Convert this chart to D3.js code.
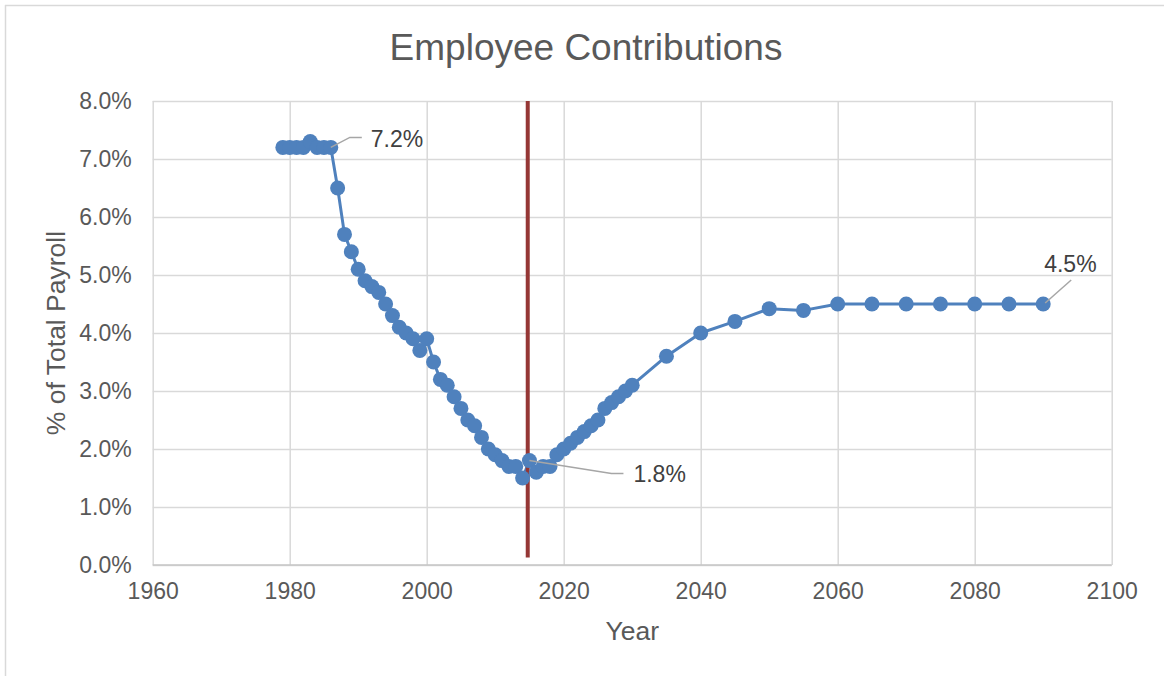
<!DOCTYPE html>
<html>
<head>
<meta charset="utf-8">
<script src="https://cdn.jsdelivr.net/npm/d3@7"></script>
<style>
  html, body { margin: 0; padding: 0; background: #fff; }
  svg { display: block; font-family: "Liberation Sans", Arial, sans-serif; }
</style>
</head>
<body>
<svg id="chart" width="1164" height="676"></svg>
<script>
// ---- data ----
const years = [1979,1980,1981,1982,1983,1984,1985,1986,1987,1988,1989,1990,1991,1992,1993,1994,1995,1996,1997,1998,1999,2000,2001,2002,2003,2004,2005,2006,2007,2008,2009,2010,2011,2012,2013,2014,2015,2016,2017,2018,2019,2020,2021,2022,2023,2024,2025,2026,2027,2028,2029,2030,2035,2040,2045,2050,2055,2060,2065,2070,2075,2080,2085,2090];
const contributions = [7.2,7.2,7.2,7.2,7.3,7.2,7.2,7.2,6.5,5.7,5.4,5.1,4.9,4.8,4.7,4.5,4.3,4.1,4.0,3.9,3.7,3.9,3.5,3.2,3.1,2.9,2.7,2.5,2.4,2.2,2.0,1.9,1.8,1.7,1.7,1.5,1.8,1.6,1.7,1.7,1.9,2.0,2.1,2.2,2.3,2.4,2.5,2.7,2.8,2.9,3.0,3.1,3.6,4.0,4.2,4.42,4.39,4.5,4.5,4.5,4.5,4.5,4.5,4.5];
const xTicks = [1960,1980,2000,2020,2040,2060,2080,2100];
const yTicks = [0,1,2,3,4,5,6,7,8];
const markerYear = [2014.75];
const markerRange = [0.13, 8];
const labelYears = [1986, 2015, 2090];
const labelTexts = ["7.2%", "1.8%", "4.5%"];

(function () {
// ---- layout ----
const svg = d3.select("#chart");
const pLeft = 152.7, pRight = 1111.7, pTop = 101, pBottom = 565;
const x = d3.scaleLinear().domain([1960, 2100]).range([pLeft, pRight]);
const y = d3.scaleLinear().domain([0, 8]).range([pBottom, pTop]);
const textGray = "#595959";

// outer frame
svg.append("line").attr("x1", 5.5).attr("x2", 5.5).attr("y1", 5).attr("y2", 676)
  .attr("stroke", "#d9d9d9").attr("stroke-width", 1.5);
svg.append("line").attr("x1", 5).attr("x2", 1164).attr("y1", 5.5).attr("y2", 5.5)
  .attr("stroke", "#d9d9d9").attr("stroke-width", 1.5);

// title
svg.append("text").attr("x", 586).attr("y", 60).attr("text-anchor", "middle")
  .attr("fill", textGray).attr("font-size", 37).text("Employee Contributions");

// gridlines
const yAxis = d3.axisLeft(y).tickValues(yTicks).tickSize(-(pRight - pLeft)).tickPadding(21)
  .tickFormat(d => d.toFixed(1) + "%");
const gy = svg.append("g").attr("transform", `translate(${pLeft},0)`).call(yAxis);
gy.select(".domain").remove();
gy.selectAll(".tick line").attr("stroke", "#d9d9d9").attr("stroke-width", 1.5);
gy.selectAll(".tick text").attr("fill", textGray).attr("font-size", 23)
  .attr("font-family", "Liberation Sans, Arial, sans-serif");

const xAxis = d3.axisBottom(x).tickValues(xTicks).tickSize(-(pBottom - pTop)).tickPadding(18)
  .tickFormat(d3.format("d"));
const gx = svg.append("g").attr("transform", `translate(0,${pBottom})`).call(xAxis);
gx.select(".domain").remove();
gx.selectAll(".tick line").attr("stroke", "#d9d9d9").attr("stroke-width", 1.5);
gx.selectAll(".tick text").attr("fill", textGray).attr("font-size", 23)
  .attr("font-family", "Liberation Sans, Arial, sans-serif");

// bottom axis line
svg.append("line").attr("x1", pLeft).attr("x2", pRight).attr("y1", pBottom).attr("y2", pBottom)
  .attr("stroke", "#c6c6c6").attr("stroke-width", 1.5);

// axis titles
svg.append("text").attr("x", (pLeft + pRight) / 2).attr("y", 640).attr("text-anchor", "middle")
  .attr("fill", textGray).attr("font-size", 26.5).text("Year");
svg.append("text").attr("transform", "translate(56,333) rotate(-90)").attr("dy", "0.35em")
  .attr("text-anchor", "middle").attr("fill", textGray).attr("font-size", 26.5)
  .text("% of Total Payroll");

// series
const pts = years.map((yr, i) => ({ yr, v: contributions[i] }));
const lineGen = d3.line().x(d => x(d.yr)).y(d => y(d.v));
const blue = "#4f81bd";
svg.append("path").datum(pts).attr("d", lineGen).attr("fill", "none")
  .attr("stroke", blue).attr("stroke-width", 3).attr("stroke-linejoin", "round");

// red vertical marker line
svg.append("line")
  .attr("x1", x(markerYear[0])).attr("x2", x(markerYear[0]))
  .attr("y1", y(markerRange[0])).attr("y2", y(markerRange[1]))
  .attr("stroke", "#953735").attr("stroke-width", 4);

svg.append("g").selectAll("circle").data(pts).join("circle")
  .attr("cx", d => x(d.yr)).attr("cy", d => y(d.v)).attr("r", 7.5).attr("fill", blue);

// data labels with leader lines
const leaderShapes = [
  { path: [[0,0],[19,-10],[31,-10]], tx: 40, ty: -0.5 },
  { path: [[0,0],[82,13],[94,13]], tx: 104, ty: 21 },
  { path: [[2,-1],[28,-24]], tx: 1, ty: -32 }
];
labelYears.forEach((yr, i) => {
  const v = contributions[years.indexOf(yr)];
  const px = x(yr), py = y(v);
  const s = leaderShapes[i];
  svg.append("path")
    .attr("d", d3.line()(s.path.map(p => [px + p[0], py + p[1]])))
    .attr("fill", "none").attr("stroke", "#a6a6a6").attr("stroke-width", 1.5);
  svg.append("text").attr("x", px + s.tx).attr("y", py + s.ty)
    .attr("fill", "#404040").attr("font-size", 23).text(labelTexts[i]);
});
})();
</script>
</body>
</html>
